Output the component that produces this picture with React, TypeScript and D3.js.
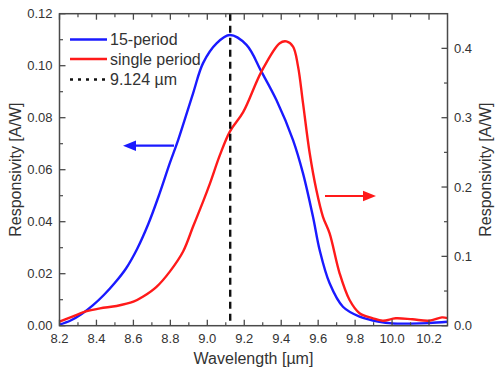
import React from "react";
import * as d3 from "d3";

const blueWl = [8.2, 8.26, 8.32, 8.38, 8.44, 8.5, 8.56, 8.62, 8.68, 8.74, 8.797, 8.842, 8.923, 8.977, 9.05, 9.122, 9.212, 9.293, 9.374, 9.464, 9.518, 9.572, 9.608, 9.662, 9.734, 9.824, 9.932, 10.0, 10.1, 10.2, 10.3];
const blueVal = [0.0004, 0.002, 0.0045, 0.0078, 0.0118, 0.0165, 0.022, 0.0295, 0.039, 0.0505, 0.0625, 0.0714, 0.0894, 0.101, 0.1086, 0.1118, 0.108, 0.0977, 0.0868, 0.0714, 0.0586, 0.0419, 0.0291, 0.0163, 0.0073, 0.0035, 0.0015, 0.0009, 0.0008, 0.001, 0.0015];

const redWl = [8.2, 8.27, 8.338, 8.419, 8.509, 8.6, 8.653, 8.725, 8.797, 8.869, 8.923, 8.977, 9.014, 9.068, 9.122, 9.194, 9.293, 9.392, 9.428, 9.464, 9.491, 9.518, 9.554, 9.59, 9.626, 9.662, 9.716, 9.77, 9.824, 9.896, 9.95, 10.02, 10.11, 10.2, 10.27, 10.3];
const redVal = [0.0058, 0.013, 0.0202, 0.025, 0.0284, 0.0346, 0.042, 0.056, 0.078, 0.107, 0.143, 0.179, 0.205, 0.246, 0.28, 0.308, 0.3665, 0.4075, 0.41, 0.4026, 0.374, 0.321, 0.249, 0.196, 0.157, 0.133, 0.0756, 0.037, 0.018, 0.0107, 0.0072, 0.0107, 0.0092, 0.0072, 0.012, 0.011];

const xTicks = [8.2, 8.4, 8.6, 8.8, 9.0, 9.2, 9.4, 9.6, 9.8, 10.0, 10.2];
const yLeftTicks = [0, 0.02, 0.04, 0.06, 0.08, 0.1, 0.12];
const yRightTicks = [0, 0.1, 0.2, 0.3, 0.4];
const peakWl = 9.124;
const legendLabels = ["15-period", "single period", "9.124 µm"];

const L = 59.5, R = 447.5, T = 13.7, B = 325.7;
const axisColor = "#4a4a4a";
const textColor = "#333";
const font = "'Liberation Sans', Arial, sans-serif";

export default function App() {
  const x = d3.scaleLinear().domain([8.2, 10.3]).range([L, R]);
  const yL = d3.scaleLinear().domain([0, 0.12]).range([B, T]);
  const yR = d3.scaleLinear().domain([0, 0.45]).range([B, T]);

  const blueLine = d3.line<number>().x((_, i) => x(blueWl[i])).y(d => yL(d)).curve(d3.curveCatmullRom.alpha(0.5));
  const redLine = d3.line<number>().x((_, i) => x(redWl[i])).y(d => yR(d)).curve(d3.curveCatmullRom.alpha(0.5));

  const xMinor = d3.range(8.3, 10.3, 0.2);
  const yLMinor = d3.range(0.01, 0.12, 0.02);
  const yRMinor = d3.range(0.05, 0.45, 0.1);

  return (
    <svg width={500} height={379} style={{ position: "absolute", left: 0, top: 0, background: "#fff" }} fontFamily={font}>
      <defs>
        <clipPath id="plot"><rect x={L} y={T} width={R - L} height={B - T} /></clipPath>
      </defs>
      <g clipPath="url(#plot)">
        <path d={blueLine(blueVal) || ""} fill="none" stroke="#1a1aff" strokeWidth={2.4} />
        <path d={redLine(redVal) || ""} fill="none" stroke="#ff1a1a" strokeWidth={2.4} />
        <line x1={x(peakWl)} x2={x(peakWl)} y1={T} y2={B} stroke="#111" strokeWidth={2.4} strokeDasharray="7,5" />
      </g>
      <rect x={L} y={T} width={R - L} height={B - T} fill="none" stroke={axisColor} strokeWidth={1.5} />
      {xTicks.map(t => (
        <g key={"x" + t}>
          <line x1={x(t)} x2={x(t)} y1={B} y2={B - 6} stroke={axisColor} strokeWidth={1.3} />
          <line x1={x(t)} x2={x(t)} y1={T} y2={T + 6} stroke={axisColor} strokeWidth={1.3} />
          <text x={x(t)} y={343} textAnchor="middle" fontSize={13} fill={textColor}>{t.toFixed(1)}</text>
        </g>
      ))}
      {xMinor.map(t => (
        <g key={"xm" + t}>
          <line x1={x(t)} x2={x(t)} y1={B} y2={B - 3.5} stroke={axisColor} strokeWidth={1.2} />
          <line x1={x(t)} x2={x(t)} y1={T} y2={T + 3.5} stroke={axisColor} strokeWidth={1.2} />
        </g>
      ))}
      {yLeftTicks.map(t => (
        <g key={"yl" + t}>
          <line x1={L} x2={L + 6} y1={yL(t)} y2={yL(t)} stroke={axisColor} strokeWidth={1.3} />
          <text x={52.5} y={yL(t) + 4.5} textAnchor="end" fontSize={13} fill={textColor}>{t.toFixed(2)}</text>
        </g>
      ))}
      {yLMinor.map(t => (
        <line key={"ylm" + t} x1={L} x2={L + 3.5} y1={yL(t)} y2={yL(t)} stroke={axisColor} strokeWidth={1.2} />
      ))}
      {yRightTicks.map(t => (
        <g key={"yr" + t}>
          <line x1={R} x2={R - 6} y1={yR(t)} y2={yR(t)} stroke={axisColor} strokeWidth={1.3} />
          <text x={454} y={yR(t) + 4.5} textAnchor="start" fontSize={13} fill={textColor}>{t.toFixed(1)}</text>
        </g>
      ))}
      {yRMinor.map(t => (
        <line key={"yrm" + t} x1={R} x2={R - 3.5} y1={yR(t)} y2={yR(t)} stroke={axisColor} strokeWidth={1.2} />
      ))}
      <text x={(L + R) / 2} y={364} textAnchor="middle" fontSize={16} fill={textColor}>Wavelength [µm]</text>
      <text transform={`translate(21,${(T + B) / 2}) rotate(-90)`} textAnchor="middle" fontSize={16} fill={textColor}>Responsivity [A/W]</text>
      <text transform={`translate(491,${(T + B) / 2}) rotate(-90)`} textAnchor="middle" fontSize={16} fill={textColor}>Responsivity [A/W]</text>
      <line x1={70} x2={107} y1={39.5} y2={39.5} stroke="#1a1aff" strokeWidth={2.4} />
      <text x={110} y={45} fontSize={16} fill={textColor}>{legendLabels[0]}</text>
      <line x1={70} x2={107} y1={59} y2={59} stroke="#ff1a1a" strokeWidth={2.4} />
      <text x={110} y={64.5} fontSize={16} fill={textColor}>{legendLabels[1]}</text>
      <line x1={70} x2={107} y1={79.5} y2={79.5} stroke="#111" strokeWidth={2.4} strokeDasharray="3,5" />
      <text x={110} y={85} fontSize={16} fill={textColor}>{legendLabels[2]}</text>
      <line x1={174} x2={132} y1={145.7} y2={145.7} stroke="#1a1aff" strokeWidth={2.2} />
      <path d="M123,145.7 L136,140.5 L136,150.9 Z" fill="#1a1aff" />
      <line x1={325} x2={366} y1={196} y2={196} stroke="#ff1a1a" strokeWidth={2.2} />
      <path d="M376,196 L363,190.8 L363,201.2 Z" fill="#ff1a1a" />
    </svg>
  );
}
